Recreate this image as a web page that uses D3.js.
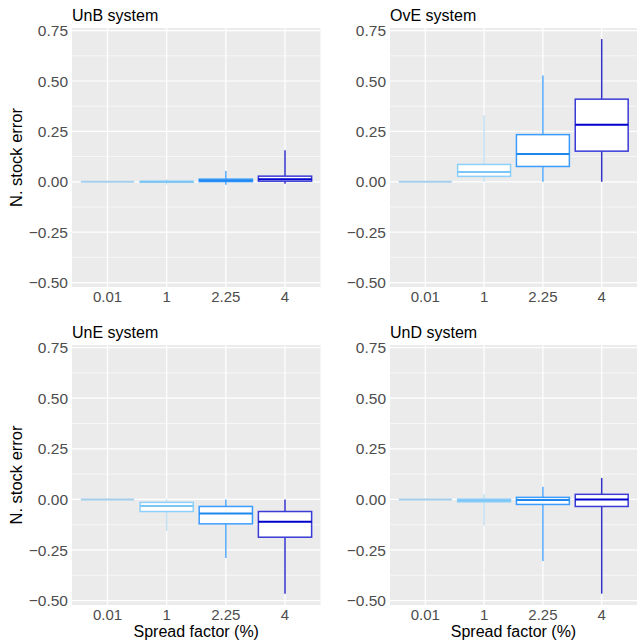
<!DOCTYPE html>
<html>
<head>
<meta charset="utf-8">
<script src="https://cdn.jsdelivr.net/npm/d3@7"></script>
<style>
  body { margin: 0; background: #fff; }
  text { font-family: "Liberation Sans", Arial, sans-serif; }
</style>
</head>
<body>
<div id="chart"></div>
<script>
// spread factors on the x axis
const categories = ["0.01", "1", "2.25", "4"];
const panelTitles = ["UnB system", "OvE system", "UnE system", "UnD system"];
const yTicks = [0.75, 0.5, 0.25, 0, -0.25, -0.5];
const yMinor = [0.625, 0.375, 0.125, -0.125, -0.375];

// each row: [lower whisker, q1, median, q3, upper whisker]
const unbStats = [
  [0, 0, 0, 0, 0],
  [-0.013, -0.002, 0, 0.002, 0.013],
  [-0.015, 0.001, 0.007, 0.013, 0.054],
  [-0.01, 0.003, 0.013, 0.028, 0.157]
];
const oveStats = [
  [0, 0, 0, 0, 0],
  [0, 0.027, 0.049, 0.086, 0.33],
  [0, 0.076, 0.138, 0.234, 0.527],
  [0, 0.152, 0.283, 0.41, 0.708]
];
const uneStats = [
  [0, 0, 0, 0, 0],
  [-0.156, -0.06, -0.033, -0.015, 0],
  [-0.29, -0.121, -0.07, -0.035, 0],
  [-0.466, -0.187, -0.111, -0.06, 0]
];
const undStats = [
  [0, 0, 0, 0, 0],
  [-0.129, -0.012, -0.005, 0.001, 0.025],
  [-0.305, -0.025, -0.003, 0.01, 0.062],
  [-0.466, -0.035, 0, 0.025, 0.106]
];

const boxColors = ["#a3cfec", "#8fd0fa", "#3b9cff", "#3a3ad6"];
const medianColors = ["#a3cfec", "#7cc6f5", "#1e88ee", "#0000cd"];
const whiskerColors = ["#a3cfec", "#c3e1f3", "#55aaff", "#3333cc"];

const W = 637, H = 641;
const svg = d3.select("#chart").append("svg")
  .attr("width", W).attr("height", H);

const panels = [
  {stats: unbStats, title: panelTitles[0], x0: 72, x1: 320.5, y0: 28, y1: 287, yTitle: true, xTitle: false},
  {stats: oveStats, title: panelTitles[1], x0: 390, x1: 637, y0: 28, y1: 287, yTitle: false, xTitle: false},
  {stats: uneStats, title: panelTitles[2], x0: 72, x1: 320.5, y0: 345, y1: 605, yTitle: true, xTitle: true},
  {stats: undStats, title: panelTitles[3], x0: 390, x1: 637, y0: 345, y1: 605, yTitle: false, xTitle: true}
];

const fmt = d3.format(".2f");

panels.forEach(p => {
  const x = d3.scalePoint().domain(categories).range([p.x0, p.x1]).padding(0.6);
  const y = d3.scaleLinear().domain([-0.522, 0.763]).range([p.y1, p.y0]);
  const bw = x.step() * 0.9;
  const g = svg.append("g");

  g.append("rect")
    .attr("x", p.x0).attr("y", p.y0)
    .attr("width", p.x1 - p.x0).attr("height", p.y1 - p.y0)
    .attr("fill", "#ebebeb");

  g.selectAll(".minor").data(yMinor).enter().append("line")
    .attr("x1", p.x0).attr("x2", p.x1)
    .attr("y1", d => y(d)).attr("y2", d => y(d))
    .attr("stroke", "#fff").attr("stroke-width", 0.6);

  g.selectAll(".major").data(yTicks).enter().append("line")
    .attr("x1", p.x0).attr("x2", p.x1)
    .attr("y1", d => y(d)).attr("y2", d => y(d))
    .attr("stroke", "#fff").attr("stroke-width", 1.2);

  g.selectAll(".vgrid").data(categories).enter().append("line")
    .attr("x1", d => x(d)).attr("x2", d => x(d))
    .attr("y1", p.y0).attr("y2", p.y1)
    .attr("stroke", "#fff").attr("stroke-width", 1.2);

  // y tick labels
  g.selectAll(".ylab").data(yTicks).enter().append("text")
    .attr("x", p.x0 - 4).attr("y", d => y(d))
    .attr("dy", "0.36em")
    .attr("text-anchor", "end")
    .attr("font-size", 15.5)
    .attr("fill", "#4d4d4d")
    .text(d => fmt(d));

  // x tick labels
  g.selectAll(".xlab").data(categories).enter().append("text")
    .attr("x", d => x(d)).attr("y", p.y1 + 14.5)
    .attr("text-anchor", "middle")
    .attr("font-size", 15)
    .attr("fill", "#4d4d4d")
    .text(d => d);

  g.append("text")
    .attr("x", p.x0).attr("y", p.y0 - 7)
    .attr("font-size", 16)
    .attr("fill", "#000")
    .text(p.title);

  if (p.yTitle) {
    g.append("text")
      .attr("transform", `translate(22,${(p.y0 + p.y1) / 2}) rotate(-90)`)
      .attr("text-anchor", "middle")
      .attr("font-size", 16.5)
      .attr("fill", "#000")
      .text("N. stock error");
  }
  if (p.xTitle) {
    g.append("text")
      .attr("x", (p.x0 + p.x1) / 2).attr("y", p.y1 + 32)
      .attr("text-anchor", "middle")
      .attr("font-size", 16)
      .attr("fill", "#000")
      .text("Spread factor (%)");
  }

  const boxes = g.selectAll(".box").data(p.stats).enter().append("g");

  boxes.append("line")
    .attr("x1", (d, i) => x(categories[i])).attr("x2", (d, i) => x(categories[i]))
    .attr("y1", d => y(d[0])).attr("y2", d => y(d[1]))
    .attr("stroke", (d, i) => whiskerColors[i]).attr("stroke-width", 1.5);
  boxes.append("line")
    .attr("x1", (d, i) => x(categories[i])).attr("x2", (d, i) => x(categories[i]))
    .attr("y1", d => y(d[3])).attr("y2", d => y(d[4]))
    .attr("stroke", (d, i) => whiskerColors[i]).attr("stroke-width", 1.5);

  boxes.append("rect")
    .attr("x", (d, i) => x(categories[i]) - bw / 2)
    .attr("y", d => y(d[3]))
    .attr("width", bw)
    .attr("height", d => Math.max(0, y(d[1]) - y(d[3])))
    .attr("fill", "#fff")
    .attr("stroke", (d, i) => boxColors[i])
    .attr("stroke-width", 1.5);

  boxes.append("line")
    .attr("x1", (d, i) => x(categories[i]) - bw / 2)
    .attr("x2", (d, i) => x(categories[i]) + bw / 2)
    .attr("y1", d => y(d[2])).attr("y2", d => y(d[2]))
    .attr("stroke", (d, i) => medianColors[i]).attr("stroke-width", 2);
});
</script>
</body>
</html>
